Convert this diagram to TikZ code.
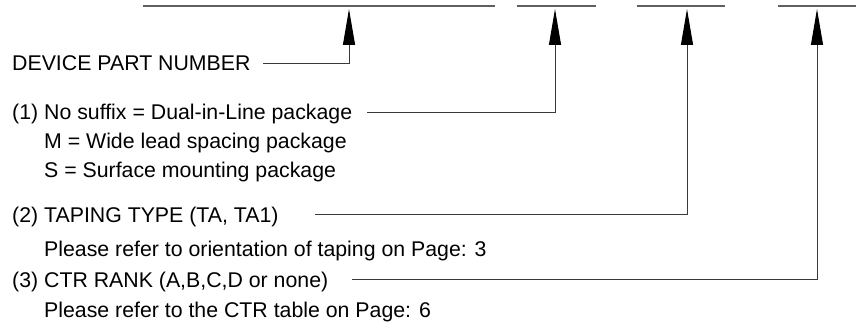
\documentclass[tikz,border=0pt]{standalone}
\usepackage{fontspec}
\setmainfont{Liberation Sans}
\usetikzlibrary{arrows.meta}
\definecolor{linegray}{HTML}{3A3A3A}
\definecolor{topgray}{HTML}{606060}
\tikzset{
  lbl/.style={anchor=base west, inner sep=0pt, font=\fontsize{21.3}{25}\selectfont},
  topline/.style={draw=topgray, line width=1.2pt},
  leader/.style={draw=linegray, line width=1pt, -{Triangle[length=36pt,width=12pt,black]}},
}
\begin{document}
\begin{tikzpicture}[x=1pt,y=-1pt]
\useasboundingbox (0,0) rectangle (856,326);
% top lines
\draw[topline] (143,6) -- (495,6);
\draw[topline] (517,6) -- (596,6);
\draw[topline] (637,6) -- (725,6);
\draw[topline] (778,6) -- (856,6);
\coordinate (t1) at (349,9);
\coordinate (t2) at (555,9);
\coordinate (t3) at (687,9);
\coordinate (t4) at (817,9);
% texts
\node[lbl] (dpn) at (12,71) {DEVICE PART NUMBER};
\node[lbl] (s1) at (12,120) {(1) No suffix = Dual-in-Line package};
\node[lbl] (s1m) at (12,148.5) {\phantom{(1) }M = Wide lead spacing package};
\node[lbl] (s1s) at (12,177) {\phantom{(1) }S = Surface mounting package};
\node[lbl] (s2) at (12,222) {(2) TAPING TYPE (TA, TA1)};
\node[lbl] (s2p) at (12,256.5) {\phantom{(2) }Please refer to orientation of taping on Page: 3};
\node[lbl] (s3) at (12,287) {(3) CTR RANK (A,B,C,D or none)};
\node[lbl] (s3p) at (12,317) {\phantom{(3) }Please refer to the CTR table on Page: 6};
% leaders
\coordinate (l0) at (263,63.5);
\coordinate (l1) at (367,112.5);
\coordinate (l2) at (315,214.5);
\coordinate (l3) at (352,279.5);
\draw[leader] (l0) -| (t1);
\draw[leader] (l1) -| (t2);
\draw[leader] (l2) -| (t3);
\draw[leader] (l3) -| (t4);
\end{tikzpicture}
\end{document}
